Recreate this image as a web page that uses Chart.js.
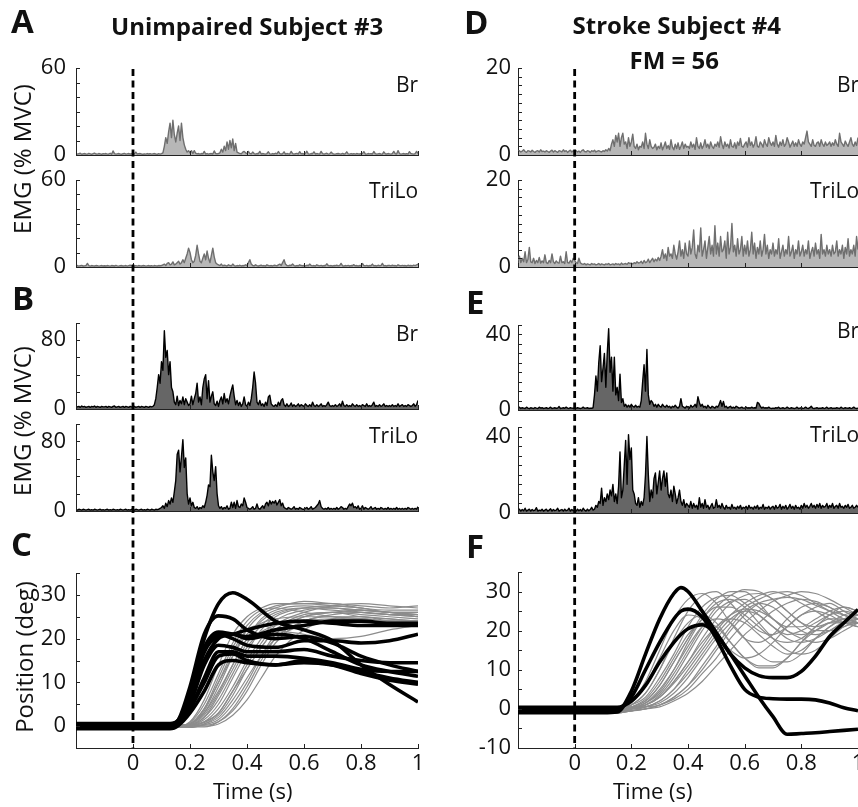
<!DOCTYPE html>
<html><head><meta charset="utf-8">
<script src="https://cdn.jsdelivr.net/npm/chart.js@4.4.0/dist/chart.umd.min.js"></script>
<style>
html,body{margin:0;padding:0;background:#fff;}
body{width:858px;height:807px;position:relative;overflow:hidden;font-family:'Open Sans',sans-serif;color:#111;}
canvas{position:absolute;}
.t{position:absolute;white-space:nowrap;line-height:1;z-index:5;}
</style></head><body>
<script>
// ---------------- DATA ----------------
// EMG samples every 5 ms from -0.2 s to 1.0 s (241 samples)
const A_BR = [1,0.6,0.9,1.2,0.5,0.8,1,0.7,0.6,1.1,0.8,0.5,0.9,1.3,0.7,0.6,1,0.8,0.5,0.9,
0.8,1,0.6,0.7,1.2,0.5,2.8,0.9,0.6,0.8,1,0.7,0.5,0.9,1.1,0.6,0.8,1,0.7,0.9,
1.2,0.8,2,0.6,0.9,1,0.7,0.5,0.8,0.6,1,0.7,0.9,0.6,0.8,1,0.7,0.5,0.9,0.6,
1,1.5,6,12,8,16,22,12,24,14,9,15,20,10,22,12,7,4,2,3,
1.5,3,1,3,1.2,0.8,1,0.6,1,0.8,2.5,0.7,1,0.6,0.9,1,0.7,2.8,1,0.8,
1,1.5,4,2,6,3,9,4,10,5,11,3,8,2,1.5,1,0.8,2,2.5,1.5,
1,2.5,1,0.8,2,1,0.6,1,0.9,2.5,0.7,1,0.8,0.6,1,2.2,0.8,0.6,1,0.7,
1.2,0.8,2.4,1,0.7,0.9,2.2,0.6,1,0.8,0.7,2.5,1,0.6,0.9,1.1,0.7,2.3,0.8,1,
0.7,1,2.6,0.8,0.6,1,0.9,2.2,0.7,1,0.8,0.6,2.5,1,0.7,0.9,1.2,0.6,0.8,2,
1,0.7,0.6,0.9,1,0.8,0.6,1.1,0.7,0.9,2.2,0.8,0.6,1,0.7,0.9,0.6,1,0.8,0.7,
0.9,1,2.3,0.7,0.6,1,0.8,0.9,0.7,2.4,1,0.6,0.8,1,0.7,0.6,2.2,0.9,0.7,1,
0.8,0.6,1,2.5,0.9,0.7,3,1,0.6,0.8,1,0.7,0.9,0.6,2.3,1,0.8,0.6,1,2.5,1];
const A_TRI = [0.8,1,0.6,0.9,1.1,0.7,0.8,1,2.5,0.9,0.6,1,0.8,0.7,1,0.9,0.6,0.8,1,0.7,
0.9,0.7,1,0.8,0.6,1,0.9,0.7,1.1,0.8,0.6,0.9,1,0.7,0.8,1,0.6,0.9,1.2,0.8,
1,0.7,0.9,0.6,1,0.8,0.7,1,0.9,0.6,0.8,1,0.7,0.9,0.6,1,0.8,0.7,1,0.9,
1,1.5,2,1,2.5,3,1.5,2,3.5,1.5,2,3,4,2,3,5,3,6,9,13,
10,5,3,4,8,15,9,4,3,6,9,5,11,6,3,8,13,7,3,2,
1.5,1,2,0.8,1.2,1,0.7,1.5,1,0.8,2,1,0.6,1,0.8,1.2,0.7,1,0.9,1.5,
1,3,5,2,1,0.8,1.5,1,0.7,1,1.2,0.8,1,0.6,1.5,1,0.8,1,0.7,1.2,
1,0.8,1.5,2,1,3,5,2,1,0.8,1.2,1,2,1,0.7,1,0.8,1.5,1,0.9,
1,0.7,1.2,0.9,2,1,0.8,1,0.7,1.5,1,0.8,1.1,0.7,1,0.9,2.2,1,0.8,1,
0.7,1,0.9,1.2,0.8,1,2.5,0.9,0.7,1,0.8,1.1,0.7,1,0.9,1.6,0.8,1,0.7,1,
0.9,2.4,1,0.8,1.1,0.7,1,0.9,2,0.8,1,0.7,1.2,0.9,1,2.5,0.8,1,0.7,1.1,
1,0.8,1.2,0.9,1,0.7,1.5,1,0.8,1.1,0.9,1,0.7,1.2,0.9,1,0.8,1.3,1,1.4,2];
const B_BR = [3,2.5,3,2,3.5,2.5,3,2,2.5,3,2,3,2.5,3.5,2,3,2.5,2,3,2.5,
2.5,3,2,3,2.5,2,3,3.5,2,2.5,3,2,2.5,3,2,3,2.5,2,3,2.5,
2.5,3,2,2.5,3,2,3,2.5,2,3,2.5,2,3,2.5,3,5,12,25,40,30,
55,45,91,60,68,40,55,25,20,8,5,15,4,10,6,14,5,12,8,4,
6,15,5,12,18,30,8,14,5,25,35,40,12,33,8,15,20,6,4,9,
3,10,14,6,18,8,12,6,15,22,28,15,5,10,4,8,3,6,14,5,
3,8,4,12,25,43,30,8,5,10,4,6,3,8,4,14,16,6,4,3,
5,3,8,4,10,12,5,3,6,3,4,7,3,5,3,4,6,3,5,4,
3,6,4,3,5,3,8,4,3,5,3,4,6,3,4,3,5,8,4,3,
4,3,5,3,4,6,3,9,4,3,5,3,4,3,6,4,3,5,3,4,
3,5,4,3,6,3,4,3,5,8,3,4,3,5,3,4,6,3,4,3,
4,3,5,3,4,3,6,3,4,5,3,4,3,5,4,3,4,6,3,5,10];
const B_TRI = [1.5,1,2,1.5,1,2,1.5,1,1.5,2,1,1.5,1,2,1.5,1,1.5,2,1,1.5,
1,1.5,2,1,1.5,1,2,1.5,1,1.5,1,2,1.5,1,1.5,2,1,1.5,1,2,
1.5,1,2,1.5,1,1.5,2,1,1.5,1,2,1.5,1,2,1.5,1,2,1.5,2,3,
4,6,3,9,5,12,8,15,10,22,35,65,70,45,62,82,50,61,20,8,
15,6,10,4,3,5,2,4,3,6,4,10,18,30,28,64,45,35,51,20,
6,3,5,2,4,3,6,2,3,10,4,10,3,12,5,4,8,6,15,10,
4,3,2,3,5,2,3,8,3,2,4,6,3,8,10,6,12,8,11,9,
12,7,10,13,6,9,4,3,2,4,3,2,3,5,2,3,2,4,3,2,
2,3,4,2,3,5,2,3,4,6,8,12,5,3,2,3,2,4,2,3,
2,3,2,4,2,3,5,4,2,3,2,5,8,6,9,4,5,3,6,2,
3,6,2,4,3,2,3,5,2,3,4,2,3,2,4,3,2,3,2,4,
2,3,2,3,2,4,2,3,2,3,2,3,2,4,3,2,3,2,3,2,5];
const D_BR = [0.8,1,0.7,0.9,1.2,0.8,0.6,1,0.9,0.7,1.1,0.8,0.6,0.9,1,0.7,1.2,0.8,0.9,0.7,
1,0.8,0.6,0.9,1.1,0.7,1,0.8,0.6,1,0.9,0.7,1.2,0.8,1,0.6,0.9,1.1,0.7,1,
0.8,1,0.7,0.9,0.6,1,1.2,0.8,0.7,1,0.9,0.6,1,0.8,1.1,0.7,0.9,1,0.8,0.7,
1,0.8,1.2,0.9,1.5,1,2.5,3.5,2,4.5,3,5,2,4,5,2.5,3,1.5,4,2,
3,4.8,2,1.5,2.5,1.2,2,1.8,3,1.5,5,2.5,1.5,3.5,2,1.5,1.8,2.5,1.2,2,
1.5,2.8,1.2,2,3,1.5,2.2,1.3,3.5,1.8,1.2,2.5,1.5,2.8,1.3,2,3,1.5,2.5,1.8,
2,1.5,3,1.8,2.5,1.3,4,2,1.5,2.8,1.5,2.2,3.5,1.8,2.5,1.5,3,2,1.5,2.5,
2,3,1.8,4.2,2.5,1.5,3,2,2.5,1.6,3.5,2,1.8,2.8,1.5,3,2.2,3.8,2,1.8,
2.5,3,1.8,4,2.2,3,1.8,2.5,4.2,2,1.8,3,2.5,1.8,3.5,2.5,2,4,2.8,2.2,
3,2,4.5,2.5,1.8,3,2.2,3.5,2,2.5,4,3,1.8,2.5,3.2,2,2.8,2,3.5,2.5,
2,3,2.5,4,5.5,3,2.5,2,3.5,2.2,2,2.8,3,2,3.5,2.5,2,3,2.2,2.5,
3,2,2.8,2.2,3.5,2.5,2,5,3,2.5,2,3.2,2.5,2,3,4,2.5,2,3,2.2,4];
const D_TRI = [1.5,2.5,1,2,1.2,3.5,1,1.8,4.5,1.2,1,2,0.8,1.5,1,2.2,0.9,1.4,1,2.8,
1,0.8,1.5,1,3,1.2,0.8,1.4,1,0.9,2.5,1,1.2,0.8,3.5,1,0.9,1.5,1,2,
1.5,1,0.8,2,1,0.7,0.6,0.8,0.5,0.7,0.6,0.5,0.8,0.6,0.7,0.5,0.6,0.8,0.5,0.7,
0.6,0.5,0.7,0.6,0.8,0.5,0.6,0.7,0.5,0.8,0.6,0.7,0.5,0.9,0.6,0.7,0.8,0.6,1,0.8,
0.9,0.7,1,0.8,1.2,0.9,1,1.3,0.8,1.5,1,1.2,1.8,1,1.5,2,1.2,1.8,1.4,2.2,
1.5,2.5,4,2,3,1.5,4.5,2.5,3,2,5,3,1.8,3.5,6,2.5,4,2,5.5,3,
2.5,6,3,4.5,8.5,3,2,5,3.5,9,2.5,4,6,2,4.5,7,3,5,2.5,9.5,
3,5.5,2.5,7,3.5,4,6,2,8,3,4.5,10,3.5,5,2.5,6.5,3,4,7,2.5,
5,3,6,2.5,4,8,3,5.5,2,4.5,3,6,2.5,4,7.5,3,5,2,4,3,
5.5,2.5,4,3,6.5,2,3.5,5,2.5,4,3,7,2.5,3.5,5,2,4,3,6,2.5,
3.5,5,2.5,4,3,6,2,3.5,4.5,2.5,5.5,3,4,2,7.5,3,4,2.5,5,3,
4,2.5,5,3,3.5,6,2.5,4,3,5,2,4.5,3,6.5,2.5,4,3,5,2.5,7,4];
const E_BR = [1,1.5,0.8,1.2,1,0.8,1.5,1,0.7,1.2,1,0.8,1.3,1,0.8,1.5,1,1.2,0.8,1,
1.2,0.8,1,1.5,0.8,1,1.2,0.9,1,1.8,0.8,1,1.2,0.9,1.5,1,0.8,1.2,1,0.9,
1,0.8,1.2,1,0.8,1,1.5,0.9,1,1.2,0.8,1,0.9,1.2,8,18,10,25,34,15,
22,30,12,30,43,20,28,10,28,8,12,5,19,4,6,2,3,1.5,2.5,1.5,
3,2,1.5,2.5,1.5,2,1.5,5,15,24,10,32,8,3,5,4,2,3,1.5,3,
2,1.5,3,2,1.5,2.5,1.5,2,1,2,1.5,2.5,1.5,1,2,6,2,1.5,1,2,
1.5,1,2.5,1.5,2,3,1.5,7,4,2,3,1.5,2,1,2.5,1.5,1,2,1.5,1,
2,1.5,3,5,2,4.5,1.5,2,1,1.5,2,1,1.5,1,2,1.5,1,1.2,1.5,1,
1,1.5,1,1.2,1,1.5,1,1.2,1,4,3.5,2,1,1.5,1,1.2,1,1.5,1,0.8,
1,0.8,1.2,1,1.5,0.8,1,1.2,0.8,1,1.5,1,0.8,1.2,1,0.8,1,1.5,0.8,1,
1.2,0.8,1,1.5,1,0.8,1.2,2,1,0.8,1,1.2,0.8,1,0.9,1.2,0.8,1,1.5,0.8,
1,1.2,0.8,1,0.9,1.2,1,0.8,1.5,1,0.8,1.2,1,0.9,1.2,0.8,1,1.5,1,0.8,1];
const E_TRI = [1.5,2,1,1.8,1.2,2.5,1,1.5,2,1,1.8,1.2,1.5,2.8,1,1.5,1.2,2,1,1.5,
2,1,1.5,2.2,1,1.8,1.2,1.5,2.5,1,1.5,1.8,1,2,1.2,1.5,2.5,1,1.8,1.2,
1.5,1,2,1.2,1.8,1,2.5,1.5,1,2,1.2,1.8,3,1.5,2,4,3,6,5,13,
4,8,6,10,7,12,9,15,6,10,5,14,32,8,12,25,38,15,41,28,
34,12,10,5,4,8,3,6,4,8,20,40,20,6,12,8,18,21,10,16,
22,12,18,22,14,21,10,8,12,6,14,10,5,8,12,6,4,7,3,5,
4,3,6,2.5,5,3,4,2,8,3,5,2.5,7,3,4,2,3.5,5,2.5,3,
7,3,4,2.5,5,3,2,4,2.5,3,2,4.5,2.5,3,2,3.5,2.5,4,2,3,
2.5,3.5,2,4,2.5,3,2,3.5,2.5,4,2,3,2.5,4.5,2,3,2.5,3.5,2,3,
3.5,2,4,2.5,3,4.5,2,3.5,2.5,4,2,3,4.5,2.5,3.5,2,4,2.5,3,2,
4,2.5,5,3,4,2.5,3.5,5,3,4,2.5,4.5,3,5,2.5,4,3,3.5,5,2.5,
4,3,5,2.5,3.5,4,2.5,5,3,3.5,2.5,4,3,4.5,2.5,3,4,2.5,3,4,3];

// Position traces (deg)
const C_T_BLACK = [-0.2,0,0.1,0.13,0.16,0.2,0.25,0.3,0.35,0.4,0.5,0.6,0.7,0.8,0.9,1.0];
const C_BLACK = [
 [-0.5,-0.5,-0.5,-0.5,1,8,20,28,30.5,29,24,22,19.5,14,9.5,5.5],
 [0.3,0.3,0.3,0.3,1.5,9,21,25.2,24.5,22,20,20.5,19,16,14,12.5],
 [0,0,0,0,1,8,18,21.5,21,20.5,22,23,24,24,23.5,23.5],
 [0.6,0.6,0.6,0.6,1.5,7,17,21,20,18.5,18,19.5,19.5,19,19.5,21],
 [-0.3,-0.3,-0.3,-0.3,0.8,5,14,18.5,18,17,17,17.5,16,15,14.5,14.5],
 [0.2,0.2,0.2,0.2,1,4,11,17,17,16,16,15.5,14.5,13,12.5,12.5],
 [-0.6,-0.6,-0.6,-0.6,0.2,3,8,14,15,14.5,14,14.5,14,12.5,11,10],
 [0.4,0.4,0.4,0.4,1,4,10,16,16.5,15,14,15,14,12,10.5,9.6],
 [-0.2,-0.2,-0.2,-0.2,1,7,17,20.5,21,20,21,20,17,14,12.5,11.4],
 [0.5,0.5,0.5,0.5,1.3,6,15,20,21,22,23.5,24,23.5,23,23,23]
];
const C_T_GRAY = [-0.2,0,0.1,0.15,0.2,0.25,0.3,0.35,0.4,0.45,0.5,0.6,0.7,0.8,0.9,1.0];
const C_GRAY = [
 [0,0,0,0,1,6,14,21,25,27,28,28,27.5,27,26,26],
 [0.2,0.2,0.2,0.2,0.5,4,11,18,23,26,27.5,28,28,27,26.5,26.5],
 [-0.2,-0.2,-0.2,-0.2,0.5,3,9,16,22,25.5,27,28.5,28,27.5,27,27.5],
 [0,0,0,0,0.3,2,7,13,19,23,25.5,27,27,26,25.5,25],
 [0.3,0.3,0.3,0.3,0.3,1.5,5,11,17,22,25,27,27.5,27,26,26],
 [0,0,0,0,0,1,4,9,15,20,24,26.5,27,26.5,26,25.5],
 [-0.3,-0.3,-0.3,-0.3,-0.3,0.5,2.5,7,13,18,22,25.5,26,25,24.5,24],
 [0,0,0,0,0,0.3,1.5,5,10,16,21,25,26,25.5,25,24.5],
 [0.2,0.2,0.2,0.2,0.2,0.2,1,3.5,8,14,19,24,25,25,24,23.5],
 [0,0,0,0,0,0,0.5,2.5,6,11,16,22,24.5,25,24.5,24],
 [-0.2,-0.2,-0.2,-0.2,0.8,5,12,19,24,26.5,27,26,25,24,23.5,23],
 [0,0,0,0,0.5,3.5,10,17,22,23,22,21,20,20.5,22,23],
 [0.3,0.3,0.3,0.3,0.3,1,3,8,14,19,23,26,27.5,28,27.5,27],
 [0,0,0,0,0.2,2,6,12,18,21.5,23,24,24.5,24.5,24,24],
 [-0.3,-0.3,-0.3,-0.3,-0.3,0.5,2,6,11,16,20,23,24,24.5,24,24],
 [0,0,0,0,0.4,3,8,14,20,24,26,27,26.5,26,25.5,25.5],
 [0.2,0.2,0.2,0.2,0.2,0.8,3,8,13,18,22,25,26,26.5,26,25],
 [0,0,0,0,0.3,2.5,7.5,14,20,24.5,26.5,27.5,27,26.5,26,25.5],
 [-0.2,-0.2,-0.2,-0.2,-0.2,-0.2,1,4,9,15,20,24,25.5,26,25.5,25],
 [0,0,0,0,0.6,4,10,16,21,23.5,24.5,25,25,24.5,24,24]
];
const F_T_BLACK = [-0.2,0,0.1,0.15,0.2,0.25,0.3,0.35,0.375,0.4,0.45,0.5,0.55,0.6,0.65,0.7,0.75,0.8,0.85,0.9,0.95,1.0];
const F_BLACK = [
 [-1,-1,-1,-0.8,4.5,14,23,29.5,31,30,25,19.5,14,8.5,3,-2,-6.5,-6.3,-6.1,-5.8,-5.5,-5.2],
 [-0.3,-0.3,-0.3,0,3,10,17,23,25,25.5,23.5,18,11,5,3,2.6,2.5,2.5,2.3,1.5,0.3,-0.5],
 [0.4,0.4,0.4,0.4,2,6,12,17,19,20.5,21.5,19,14,10.5,8.5,8,8,9.6,13.5,18.5,22,25.4]
];
const F_T_GRAY = [-0.2,0,0.1,0.15,0.2,0.25,0.3,0.35,0.4,0.45,0.5,0.55,0.6,0.65,0.7,0.75,0.8,0.85,0.9,0.95,1.0];
const F_GRAY = [
 [-0.5,-0.5,-0.5,0,2,7,15,23,28,29.5,27,22,18,17,19,23,26,27,26,24,23],
 [-1,-1,-1,-0.5,1,4,10,18,25,29,30,27,23,20,19,21,24,26,27,25,23],
 [0,0,0,0,1,3,8,14,21,26,28.5,29,27,24,21,19,20,22,24,25,24],
 [-0.5,-0.5,-0.5,-0.5,0.5,2,6,12,18,24,28,30,30,27,23,20,19,20,22,24,25],
 [-1,-1,-1,-1,0,1.5,4,9,15,21,26,29,30.5,30,28,25,22,21,22,23,24],
 [0,0,0,0,0.5,1,3,7,12,18,23,27,29,29.5,28,25,22,20,20,21,23],
 [-0.5,-0.5,-0.5,-0.5,0,0.5,2,5,10,15,20,24,27,29,30,29,27,25,23,22,22],
 [-1,-1,-1,-1,-0.5,0.5,1.5,4,8,13,18,22,26,28,29.5,30,29,27,25,23,22],
 [0,0,0,0,0,0.5,1,3,6,10,15,20,24,27,28,28.5,28,26.5,25,24,23],
 [-0.5,-0.5,-0.5,-0.5,-0.5,0,1,2.5,5,9,13,18,22,25,27.5,29,30,29.5,28,26,24],
 [-1,-1,-1,-0.5,1.5,6,13,20,24,23,19,15,13,14,17,21,24,25,24,22,21],
 [0,0,0,0,1,4,10,17,22,24,22,17,13,11,11,13,17,21,23,23,22],
 [-0.5,-0.5,-0.5,-0.5,0.5,2.5,7,13,19,22,21,17,13,10.5,10.5,13,17,20,22,22,21],
 [-1,-1,-1,-1,0,1.5,5,10,16,21,23,22,18,14,12,12,14,18,21,23,23],
 [0,0,0,0,0,1,3,7,12,17,21,23,22,19,16,14,15,18,21,23,24],
 [-0.5,-0.5,-0.5,-0.5,0,0.5,2,5,9,14,19,23,25,24,21,18,17,18,20,22,23],
 [-1,-1,-1,-1,-0.5,0,1,3,6,11,16,21,25,27,26,23,20,19,20,22,22],
 [0,0,0,0,0.5,2,6,12,18,23,26,26,24,21,18,17,18,21,24,26,25],
 [-0.5,-0.5,-0.5,-0.5,0,1,3.5,8,14,20,25,27.5,28,26,23,21,21,23,25,26,25],
 [-1,-1,-1,-1,-0.5,0,0.5,2,4,7,11,15,19,22,25,27,28,27.5,26,24,22],
 [0,0,0,0,0.3,1.5,4.5,10,17,23,27,28,26,22,18,15,14,15,18,21,22],
 [-0.5,-0.5,-0.5,-0.5,0.2,1,3,6.5,11,16,21,24,25.5,25,23,20,18,17,18,20,22]
];

// Tick values / labels
const X_TICKS = [0, 0.2, 0.4, 0.6, 0.8, 1];
const X_TICK_LABELS = ['0', '0.2', '0.4', '0.6', '0.8', '1'];
const X_MINOR = [-0.2, 0, 0.2, 0.4, 0.6, 0.8, 1];
const YT_A = [0, 60], YM_A = [0, 10, 20, 30, 40, 50, 60];
const YT_B = [0, 80], YM_B = [0, 20, 40, 60, 80, 100];
const YT_C = [0, 10, 20, 30], YM_C = [-5, 0, 5, 10, 15, 20, 25, 30, 35];
const YT_D = [0, 20], YM_D = [0, 2, 4, 6, 8, 10, 12, 14, 16, 18, 20];
const YT_E = [0, 40], YM_E = [0, 5, 10, 15, 20, 25, 30, 35, 40, 45];
const YT_F = [-10, 0, 10, 20, 30], YM_F = [-10, -5, 0, 5, 10, 15, 20, 25, 30, 35];

// ---------------- DRAWING ----------------
const EMG_T = Array.from({length: 241}, (_, i) => Math.round((-0.2 + i * 0.005) * 1000) / 1000);
const pts = (ts, vs) => vs.map((v, i) => ({x: ts[i], y: v}));
const EMG_GRAY = '#6f6f6f', POS_GRAY = '#8c8c8c';
const FONT = "'Open Sans', sans-serif";

const inwardTicks = {
  id: 'inwardTicks',
  afterDraw(chart, args, o) {
    const {ctx, chartArea: a, scales: {x, y}} = chart;
    ctx.save(); ctx.strokeStyle = '#222'; ctx.lineWidth = 1; ctx.beginPath();
    (o.y || []).forEach(v => { const p = Math.round(y.getPixelForValue(v)) + 0.5; ctx.moveTo(a.left, p); ctx.lineTo(a.left + 4, p); });
    (o.x || []).forEach(v => { const p = Math.round(x.getPixelForValue(v)) + 0.5; ctx.moveTo(p, a.bottom); ctx.lineTo(p, a.bottom - 4); });
    ctx.stroke(); ctx.restore();
  }
};
const zeroLine = {
  id: 'zeroLine',
  afterDraw(chart, args, o) {
    const {ctx, chartArea: a} = chart;
    const px = chart.scales.x.getPixelForValue(0);
    const y1 = o.first ? a.top : 0, y2 = o.last ? a.bottom : chart.height;
    const period = 11.5;
    ctx.save(); ctx.strokeStyle = '#000'; ctx.lineWidth = 2.8;
    ctx.setLineDash([7, 4.5]); ctx.lineDashOffset = (o.pageTop + y1) % period;
    ctx.beginPath(); ctx.moveTo(px, y1); ctx.lineTo(px, y2); ctx.stroke(); ctx.restore();
  }
};
const noPad = s => { s.paddingTop = 0; s.paddingBottom = 0; s.paddingLeft = 0; s.paddingRight = 0; };

const COLS = {
  L: {left: 0, width: 430, yW: 76, padR: 12, tickPad: 10},
  R: {left: 430, width: 428, yW: 88, padR: 0, tickPad: 7}
};

const PANELS = [
  {col: 'L', top: 40,  h: 128, padT: 28, xH: 13, min: 0, max: 60,  yt: YT_A, ym: YM_A, emg: A_BR,  color: EMG_GRAY, first: true},
  {col: 'L', top: 168, h: 112, padT: 12, xH: 13, min: 0, max: 60,  yt: YT_A, ym: YM_A, emg: A_TRI, color: EMG_GRAY},
  {col: 'L', top: 280, h: 140, padT: 43, xH: 11, min: 0, max: 100, yt: YT_B, ym: YM_B, emg: B_BR,  color: '#000'},
  {col: 'L', top: 420, h: 105, padT: 4,  xH: 14, min: 0, max: 100, yt: YT_B, ym: YM_B, emg: B_TRI, color: '#000'},
  {col: 'L', top: 525, h: 282, padT: 48, xH: 59, min: -5, max: 35, yt: YT_C, ym: YM_C, pos: 'C', last: true},
  {col: 'R', top: 40,  h: 128, padT: 28, xH: 13, min: 0, max: 20,  yt: YT_D, ym: YM_D, emg: D_BR,  color: EMG_GRAY, first: true},
  {col: 'R', top: 168, h: 112, padT: 12, xH: 13, min: 0, max: 20,  yt: YT_D, ym: YM_D, emg: D_TRI, color: EMG_GRAY},
  {col: 'R', top: 280, h: 140, padT: 45, xH: 10, min: 0, max: 45,  yt: YT_E, ym: YM_E, emg: E_BR,  color: '#000'},
  {col: 'R', top: 420, h: 105, padT: 7,  xH: 12, min: 0, max: 45,  yt: YT_E, ym: YM_E, emg: E_TRI, color: '#000'},
  {col: 'R', top: 525, h: 282, padT: 47, xH: 59, min: -10, max: 35, yt: YT_F, ym: YM_F, pos: 'F', last: true}
];

PANELS.forEach(p => {
  const c = COLS[p.col];
  const cv = document.createElement('canvas');
  cv.width = c.width; cv.height = p.h;
  cv.style.left = c.left + 'px'; cv.style.top = p.top + 'px';
  document.body.appendChild(cv);
  const datasets = [];
  if (p.emg) {
    const fillCol = p.color === '#000' ? 'rgba(0,0,0,0.6)' : 'rgba(111,111,111,0.5)';
    datasets.push({data: pts(EMG_T, p.emg), borderColor: p.color, backgroundColor: fillCol, fill: 'origin', borderWidth: 1.4, tension: 0});
  } else if (p.pos === 'C') {
    C_GRAY.forEach(s => datasets.push({data: pts(C_T_GRAY, s), borderColor: POS_GRAY, borderWidth: 1.2, cubicInterpolationMode: 'monotone', order: 1}));
    C_BLACK.forEach(s => datasets.push({data: pts(C_T_BLACK, s), borderColor: '#000', borderWidth: 3.6, cubicInterpolationMode: 'monotone', order: 0}));
  } else {
    F_GRAY.forEach(s => datasets.push({data: pts(F_T_GRAY, s), borderColor: POS_GRAY, borderWidth: 1.2, cubicInterpolationMode: 'monotone', order: 1}));
    F_BLACK.forEach(s => datasets.push({data: pts(F_T_BLACK, s), borderColor: '#000', borderWidth: 3.6, cubicInterpolationMode: 'monotone', order: 0}));
  }
  const isPos = !!p.pos;
  new Chart(cv, {
    type: 'line',
    data: {datasets},
    plugins: [inwardTicks, zeroLine],
    options: {
      responsive: false, animation: false, devicePixelRatio: 1,
      events: [],
      layout: {padding: {top: p.padT, right: c.padR, bottom: 0, left: 0}},
      elements: {point: {radius: 0}, line: {borderJoinStyle: 'round'}},
      plugins: {
        legend: {display: false}, tooltip: {enabled: false}, filler: {propagate: false},
        inwardTicks: {x: X_MINOR, y: p.ym},
        zeroLine: {first: !!p.first, last: !!p.last, pageTop: p.top}
      },
      scales: {
        x: {
          type: 'linear', min: -0.2, max: 1.0,
          grid: {display: false, drawTicks: false},
          border: {display: true, color: '#222', width: 1},
          ticks: {
            display: isPos, autoSkip: false, maxRotation: 0, padding: 3,
            font: {family: FONT, size: 22, lineHeight: 1.2}, color: '#111',
            callback: (v) => { const i = X_TICKS.indexOf(Math.round(v * 10) / 10); return i >= 0 ? X_TICK_LABELS[i] : ''; }
          },
          afterBuildTicks: s => { s.ticks = X_TICKS.map(v => ({value: v})); },
          afterFit: s => { s.height = p.xH; noPad(s); }
        },
        y: {
          type: 'linear', min: p.min, max: p.max,
          grid: {display: false, drawTicks: false},
          border: {display: true, color: '#222', width: 1},
          ticks: {
            padding: c.tickPad, font: {family: FONT, size: 22, lineHeight: 1.2}, color: '#111',
            callback: v => String(v)
          },
          afterBuildTicks: s => { s.ticks = p.yt.map(v => ({value: v})); },
          afterFit: s => { s.width = c.yW; noPad(s); }
        }
      }
    }
  });
});

// ---------------- TEXT ----------------
function txt(text, x, y, size, bold, align, rot) {
  const d = document.createElement('div');
  d.className = 't'; d.textContent = text;
  d.style.fontSize = size + 'px'; d.style.fontWeight = bold ? '700' : '400';
  document.body.appendChild(d);
  const w = d.offsetWidth;
  if (rot) {
    d.style.left = (x - w / 2) + 'px'; d.style.top = (y - size / 2) + 'px';
    d.style.transform = 'rotate(-90deg)'; d.style.transformOrigin = '50% 50%';
  } else {
    const left = align === 'center' ? x - w / 2 : align === 'right' ? x - w : x;
    d.style.left = left + 'px'; d.style.top = (y - 0.53 * size) + 'px';
  }
}
txt('A', 11, 21.5, 33, true, 'left');
txt('B', 12, 298, 33, true, 'left');
txt('C', 11, 544.5, 33, true, 'left');
txt('D', 464, 22.5, 33, true, 'left');
txt('E', 466, 302, 33, true, 'left');
txt('F', 466, 546.5, 33, true, 'left');
txt('Unimpaired Subject #3', 247, 26.7, 24, true, 'center');
txt('Stroke Subject #4', 677, 26, 24, true, 'center');
txt('FM = 56', 674, 61, 24, true, 'center');
txt('Br', 418, 85, 21, false, 'right');
txt('TriLo', 418, 191, 21, false, 'right');
txt('Br', 418, 334, 21, false, 'right');
txt('TriLo', 418, 436, 21, false, 'right');
txt('Br', 859, 85, 21, false, 'right');
txt('TriLo', 859, 191, 21, false, 'right');
txt('Br', 859, 331.5, 21, false, 'right');
txt('TriLo', 859, 435, 21, false, 'right');
txt('EMG (% MVC)', 22, 159, 24, false, 'center', true);
txt('EMG (% MVC)', 22, 421, 24, false, 'center', true);
txt('Position (deg)', 24, 657, 24, false, 'center', true);
txt('Time (s)', 253, 790.5, 22, false, 'center');
txt('Time (s)', 653, 791, 22, false, 'center');
</script>
</body></html>
